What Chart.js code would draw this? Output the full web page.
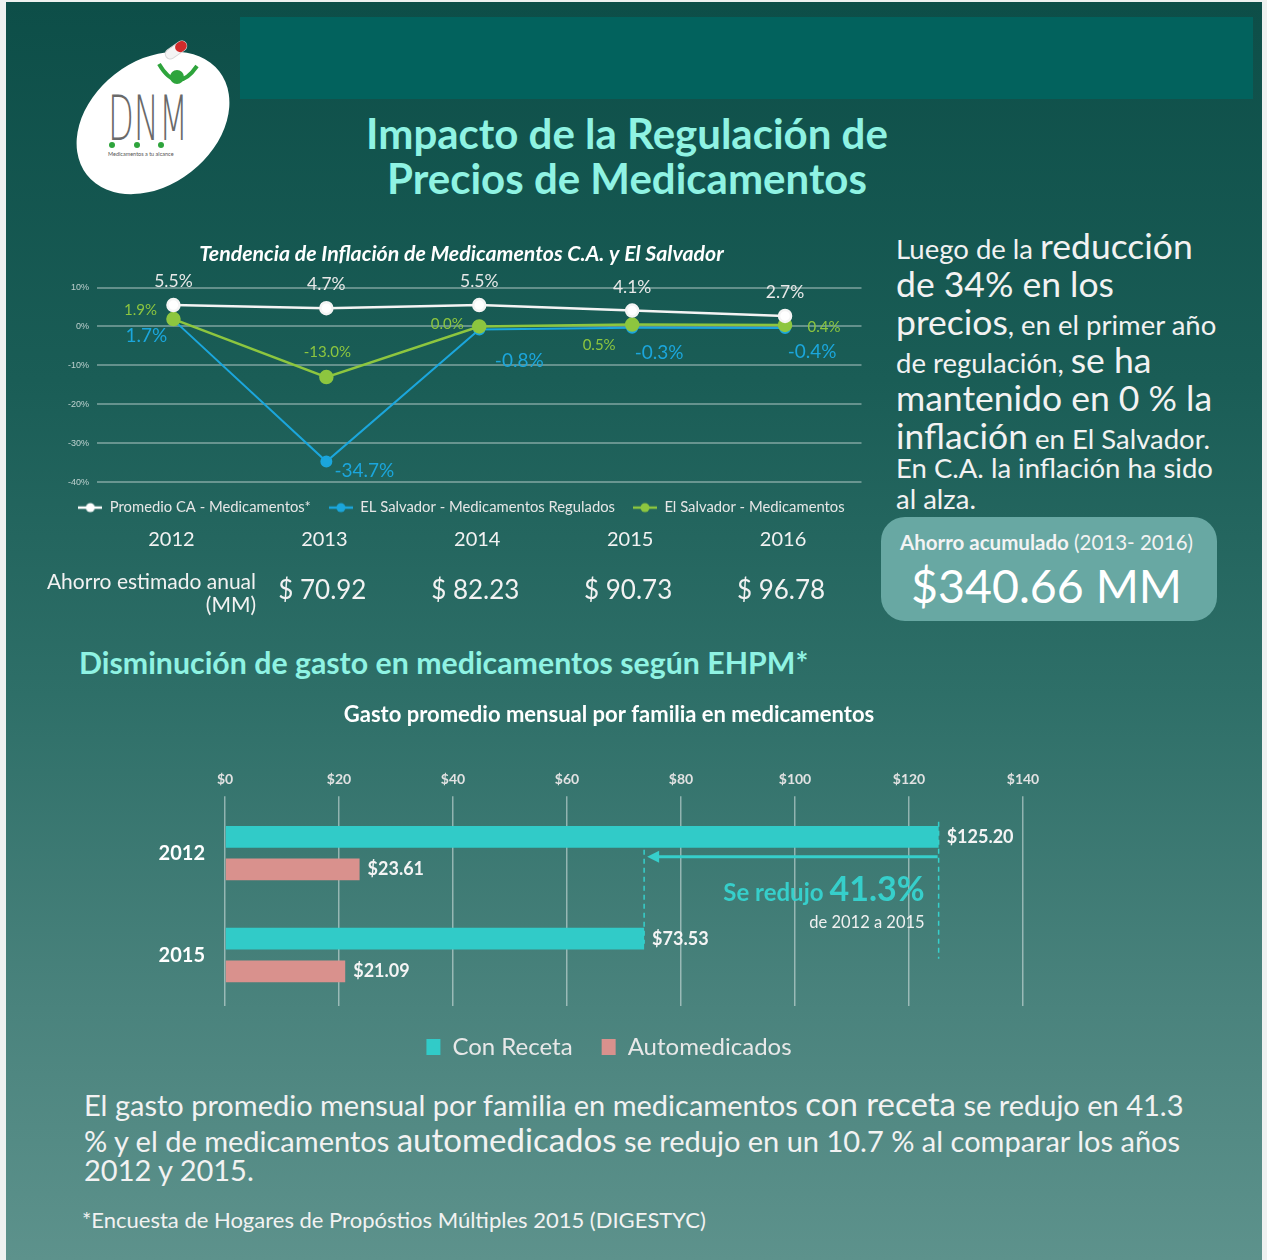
<!DOCTYPE html>
<html lang="es">
<head>
<meta charset="utf-8">
<title>Impacto de la Regulación de Precios de Medicamentos</title>
<script src="https://cdn.jsdelivr.net/npm/chart.js@4.4.1/dist/chart.umd.min.js"></script>
<style>
  html, body { margin: 0; padding: 0; }
  body {
    width: 1267px; height: 1260px; position: relative; overflow: hidden;
    background: #eef1f0; font-family: Lato, "Open Sans", sans-serif; color: #f2f2f2;
  }
  #panel {
    position: absolute; left: 6px; top: 2px; width: 1256px; height: 1258px;
    background: linear-gradient(180deg, #0d4e48 0%, #1a5d56 30%, #2e6f68 55%, #4a837d 80%, #5d928c 100%);
  }
  #banner { position: absolute; left: 240px; top: 17px; width: 1013px; height: 82px; background: #02625d; }
  .abs { position: absolute; white-space: nowrap; }
  .title { left: 280px; width: 694px; text-align: center; color: #8ff3e3; font-weight: 700; font-size: 42px; line-height: 46px; }
  .side { left: 896px; height: 38px; line-height: 38px; font-size: 27.5px; }
  .side b { font-weight: 400; font-size: 35.5px; }
  #savebox {
    position: absolute; left: 881px; top: 517px; width: 336px; height: 104px;
    border-radius: 24px; background: #68a8a3;
  }
  .para { left: 84px; font-size: 29px; line-height: 34px; }
  .para b { font-weight: 400; font-size: 33px; }
  .chartbox { position: absolute; }
</style>
</head>
<body>
<div id="panel"></div>
<div id="banner"></div>

<svg class="abs" style="left:0;top:0" width="250" height="215">
  <ellipse cx="153" cy="123" rx="84" ry="62" transform="rotate(-38 153 123)" fill="#ffffff"/>
  <g transform="rotate(-35 176 50)">
    <rect x="164" y="45" width="24" height="10" rx="5" fill="#f4f4f4" stroke="#d8d8d8"/>
    <rect x="176" y="45" width="12" height="10" rx="5" fill="#d22b2b"/>
  </g>
  <path d="M159 64 Q 177 95 197 66" stroke="#2ea43c" stroke-width="4" fill="none"/>
  <circle cx="177" cy="77" r="7" fill="#2ea43c"/>
  <text x="108" y="140" font-family="'DejaVu Sans', sans-serif" font-weight="200" font-size="62" fill="#6a6a6a" textLength="80" lengthAdjust="spacingAndGlyphs">DNM</text>
  <circle cx="112" cy="145" r="3" fill="#2ea43c"/>
  <circle cx="137" cy="145" r="3" fill="#2ea43c"/>
  <circle cx="161" cy="145" r="3" fill="#2ea43c"/>
  <text x="108" y="156" font-family="Lato, sans-serif" font-size="5.5" fill="#555">Medicamentos a tu alcance</text>
</svg>

<div class="abs title" style="top:110px">Impacto de la Regulación de</div>
<div class="abs title" style="top:155px">Precios de Medicamentos</div>

<div class="abs side" style="top:227px">Luego de la <b>reducción</b></div>
<div class="abs side" style="top:265px"><b>de 34% en los</b></div>
<div class="abs side" style="top:303px"><b>precios</b>, en el primer año</div>
<div class="abs side" style="top:341px">de regulación, <b>se ha</b></div>
<div class="abs side" style="top:379px"><b>mantenido en 0 % la</b></div>
<div class="abs side" style="top:417px"><b>inflación</b> en El Salvador.</div>
<div class="abs side" style="top:449px">En C.A. la inflación ha sido</div>
<div class="abs side" style="top:480px">al alza.</div>

<div id="savebox"></div>
<div class="abs" style="left:900px;top:530px;font-size:20.5px;line-height:24px;color:#f3f3f3"><span style="font-weight:700">Ahorro acumulado</span> (2013- 2016)</div>
<div class="abs" style="left:911px;top:557px;font-size:46.5px;line-height:56px;color:#ffffff">$340.66 MM</div>

<div class="abs" style="left:79px;top:644px;font-size:30.3px;line-height:36px;font-weight:700;color:#8ff3e3">Disminución de gasto en medicamentos según EHPM*</div>

<div class="chartbox" style="left:40px;top:236px;width:830px;height:390px"><canvas id="inflationChart"></canvas></div>
<div class="chartbox" style="left:140px;top:700px;width:920px;height:372px"><canvas id="gastoChart"></canvas></div>

<div class="abs para" style="top:1086px">El gasto promedio mensual por familia en medicamentos <b>con receta</b> se redujo en 41.3</div>
<div class="abs para" style="top:1122px">% y el de medicamentos <b>automedicados</b> se redujo en un 10.7 % al comparar los años</div>
<div class="abs para" style="top:1153px">2012 y 2015.</div>
<div class="abs" style="left:82px;top:1207px;font-size:22px;line-height:26px">*Encuesta de Hogares de Propóstios Múltiples 2015 (DIGESTYC)</div>

<script>
// inflation trend (percent)
const years = ["2012", "2013", "2014", "2015", "2016"];
const promedioCA = [5.5, 4.7, 5.5, 4.1, 2.7];
const salvadorRegulados = [1.7, -34.7, -0.8, -0.3, -0.4];
const salvadorMedicamentos = [1.9, -13.0, 0.0, 0.5, 0.4];
const annualSavings = [70.92, 82.23, 90.73, 96.78]; // 2013-2016, MM

// monthly spend per family
const surveyYears = ["2012", "2015"];
const conReceta = [125.20, 73.53];
const automedicados = [23.61, 21.09];

document.addEventListener("DOMContentLoaded", () => {
  // --- 1. Inflation line chart ---

  // legend icon: short line with a dot
  function lineIcon(color) {
    const c = document.createElement("canvas");
    c.width = 24; c.height = 12;
    const g = c.getContext("2d");
    g.strokeStyle = color; g.lineWidth = 2.5;
    g.beginPath(); g.moveTo(0, 6); g.lineTo(24, 6); g.stroke();
    g.fillStyle = color;
    g.beginPath(); g.arc(12, 6, 4.5, 0, Math.PI * 2); g.fill();
    return c;
  }
  const icons = [lineIcon("#ffffff"), lineIcon("#1ba6dc"), lineIcon("#8dc63f")];

  const pointLabels = {
    id: "pointLabels",
    afterDatasetsDraw(chart, args, opts) {
      const ctx = chart.ctx;
      chart.data.datasets.forEach((ds, di) => {
        const st = opts.styles[di];
        chart.getDatasetMeta(di).data.forEach((pt, i) => {
          const [dx, dy] = st.offsets[i];
          ctx.save();
          ctx.font = st.font;
          ctx.fillStyle = st.color;
          ctx.textAlign = "center";
          ctx.textBaseline = "middle";
          ctx.fillText(ds.data[i].toFixed(1) + "%", pt.x + dx, pt.y + dy);
          ctx.restore();
        });
      });
    },
  };

  // years + yearly savings under the legend
  const savingsRow = {
    id: "savingsRow",
    afterDraw(chart) {
      const ctx = chart.ctx;
      const x = chart.scales.x;
      ctx.save();
      ctx.fillStyle = "#f2f2f2";
      ctx.textBaseline = "middle";
      ctx.textAlign = "center";
      ctx.font = "20px Lato";
      years.forEach((y, i) => ctx.fillText(y, x.getPixelForValue(i) - 2, 304));
      ctx.font = "26px Lato";
      annualSavings.forEach((v, i) => ctx.fillText("$ " + v.toFixed(2), x.getPixelForValue(i + 1) - 4, 355));
      ctx.textAlign = "right";
      ctx.font = "21px Lato";
      ctx.fillText("Ahorro estimado anual", 216, 346);
      ctx.fillText("(MM)", 216, 369);
      ctx.restore();
    },
  };

  new Chart(document.getElementById("inflationChart"), {
    type: "line",
    data: {
      labels: years,
      datasets: [
        {
          label: "Promedio CA - Medicamentos*",
          data: promedioCA,
          borderColor: "#f4f4f4",
          backgroundColor: "#ffffff",
          borderWidth: 2.5,
          pointRadius: 6,
          order: 0,
        },
        {
          label: "EL Salvador - Medicamentos Regulados",
          data: salvadorRegulados,
          borderColor: "#1ba6dc",
          backgroundColor: "#1ba6dc",
          borderWidth: 2,
          pointRadius: 5,
          order: 2,
        },
        {
          label: "El Salvador - Medicamentos",
          data: salvadorMedicamentos,
          borderColor: "#8dc63f",
          backgroundColor: "#8dc63f",
          borderWidth: 2.5,
          pointRadius: 6,
          order: 1,
        },
      ],
    },
    options: {
      responsive: true,
      maintainAspectRatio: false,
      animation: false,
      layout: { padding: { top: 0, right: 7, bottom: 101, left: 20 } },
      scales: {
        x: { display: false, offset: true },
        y: {
          min: -40,
          max: 10,
          afterFit: (s) => { s.width = 37; },
          ticks: { stepSize: 10, padding: 8, color: "rgba(255,255,255,0.7)", font: { size: 9 }, callback: (v) => v + "%" },
          grid: { color: "rgba(255,255,255,0.33)", lineWidth: 2, drawTicks: false },
          border: { display: false },
        },
      },
      plugins: {
        title: {
          display: true,
          text: "Tendencia de Inflación de Medicamentos C.A. y El Salvador",
          color: "#ffffff",
          font: { size: 21.3, weight: "bold", style: "italic", family: "Lato" },
          padding: { top: 5, bottom: 21 },
        },
        legend: {
          position: "bottom",
          labels: {
            color: "#e6e6e6",
            font: { size: 14.8, family: "Lato" },
            padding: 18,
            usePointStyle: true,
            pointStyleWidth: 24,
            sort: (a, b) => a.datasetIndex - b.datasetIndex,
            generateLabels: (chart) =>
              Chart.defaults.plugins.legend.labels.generateLabels(chart).map((item) => {
                item.pointStyle = icons[item.datasetIndex];
                return item;
              }),
          },
        },
        tooltip: { enabled: false },
        pointLabels: {
          styles: [
            { font: "17.5px Lato", color: "#e8e8e8", offsets: [[0, -24], [0, -24], [0, -24], [0, -23], [0, -24]] },
            { font: "19px Lato", color: "#1ba6dc", offsets: [[-27, 16], [38, 9], [40, 31], [27, 25], [27, 24]] },
            { font: "15px Lato", color: "#8dc63f", offsets: [[-33, -9], [1, -25], [-32, -2], [-33, 21], [39, 2]] },
          ],
        },
      },
    },
    plugins: [pointLabels, savingsRow],
  });

  // --- 2. Monthly spend bar chart ---
  const barValues = {
    id: "barValues",
    afterDatasetsDraw(chart) {
      const ctx = chart.ctx;
      ctx.save();
      ctx.font = "bold 18px Lato";
      ctx.fillStyle = "#f4f4f4";
      ctx.textAlign = "left";
      ctx.textBaseline = "middle";
      chart.data.datasets.forEach((ds, di) => {
        chart.getDatasetMeta(di).data.forEach((bar, i) => {
          ctx.fillText("$" + ds.data[i].toFixed(2), bar.x + 8, bar.y);
        });
      });
      // category labels, placed from the y scale
      const y = chart.scales.y;
      ctx.font = "bold 20px Lato";
      ctx.fillStyle = "#ffffff";
      ctx.textAlign = "right";
      chart.data.labels.forEach((lab, i) => ctx.fillText(lab, chart.chartArea.left - 20, y.getPixelForValue(i)));
      ctx.restore();
    },
  };

  const reductionNote = {
    id: "reductionNote",
    afterDatasetsDraw(chart) {
      const ctx = chart.ctx;
      const bars = chart.getDatasetMeta(0).data;
      const a = bars[0];
      const b = bars[1];
      const cyan = "#36cfcb";
      ctx.save();
      ctx.strokeStyle = cyan;
      ctx.lineWidth = 1.5;
      ctx.setLineDash([5, 4]);
      ctx.beginPath();
      ctx.moveTo(a.x, a.y - 15); ctx.lineTo(a.x, b.y + 20);
      ctx.moveTo(b.x, a.y + 13); ctx.lineTo(b.x, b.y + 5);
      ctx.stroke();
      ctx.setLineDash([]);
      const ay = a.y + 20;
      ctx.lineWidth = 3;
      ctx.beginPath();
      ctx.moveTo(a.x - 1, ay); ctx.lineTo(b.x + 12, ay);
      ctx.stroke();
      ctx.fillStyle = cyan;
      ctx.beginPath();
      ctx.moveTo(b.x + 3, ay); ctx.lineTo(b.x + 15, ay - 6); ctx.lineTo(b.x + 15, ay + 6);
      ctx.closePath(); ctx.fill();

      const pct = ((1 - conReceta[1] / conReceta[0]) * 100).toFixed(1) + "%";
      const right = a.x - 14;
      ctx.textAlign = "right";
      ctx.textBaseline = "alphabetic";
      ctx.font = "bold 34px Lato";
      ctx.fillText(pct, right, a.y + 64);
      const w = ctx.measureText(pct).width;
      ctx.font = "bold 24px Lato";
      ctx.fillText("Se redujo", right - w - 6, a.y + 64);
      ctx.fillStyle = "#f0f0f0";
      ctx.font = "16.5px Lato";
      ctx.textBaseline = "middle";
      ctx.fillText("de " + surveyYears[0] + " a " + surveyYears[1], right, a.y + 86);
      ctx.restore();
    },
  };

  new Chart(document.getElementById("gastoChart"), {
    type: "bar",
    data: {
      labels: surveyYears,
      datasets: [
        { label: "Con Receta", data: conReceta, backgroundColor: "#31cbc8", barPercentage: 0.667, categoryPercentage: 0.64 },
        { label: "Automedicados", data: automedicados, backgroundColor: "#d9918d", barPercentage: 0.667, categoryPercentage: 0.64 },
      ],
    },
    options: {
      indexAxis: "y",
      responsive: true,
      maintainAspectRatio: false,
      animation: false,
      layout: { padding: { top: 0, right: 37, bottom: 3, left: 55 } },
      scales: {
        x: {
          position: "top",
          min: 0,
          max: 140,
          ticks: { stepSize: 20, padding: 8, color: "#e2e2e2", font: { size: 14, weight: "bold", family: "Lato" }, callback: (v) => "$" + v },
          grid: { color: "rgba(255,255,255,0.45)", lineWidth: 1.5, tickLength: 6 },
          border: { display: false },
        },
        y: {
          afterFit: (s) => { s.width = 30; },
          ticks: { display: false },
          grid: { display: false, drawTicks: false },
          border: { display: false },
        },
      },
      plugins: {
        title: {
          display: true,
          text: "Gasto promedio mensual por familia en medicamentos",
          color: "#ffffff",
          font: { size: 22, weight: "bold", family: "Lato" },
          padding: { top: 2, bottom: 35 },
        },
        legend: {
          position: "bottom",
          labels: { color: "#e8e8e8", font: { size: 24, family: "Lato" }, padding: 29, boxWidth: 14, boxHeight: 16 },
        },
        tooltip: { enabled: false },
      },
    },
    plugins: [barValues, reductionNote],
  });
});
</script>
</body>
</html>
